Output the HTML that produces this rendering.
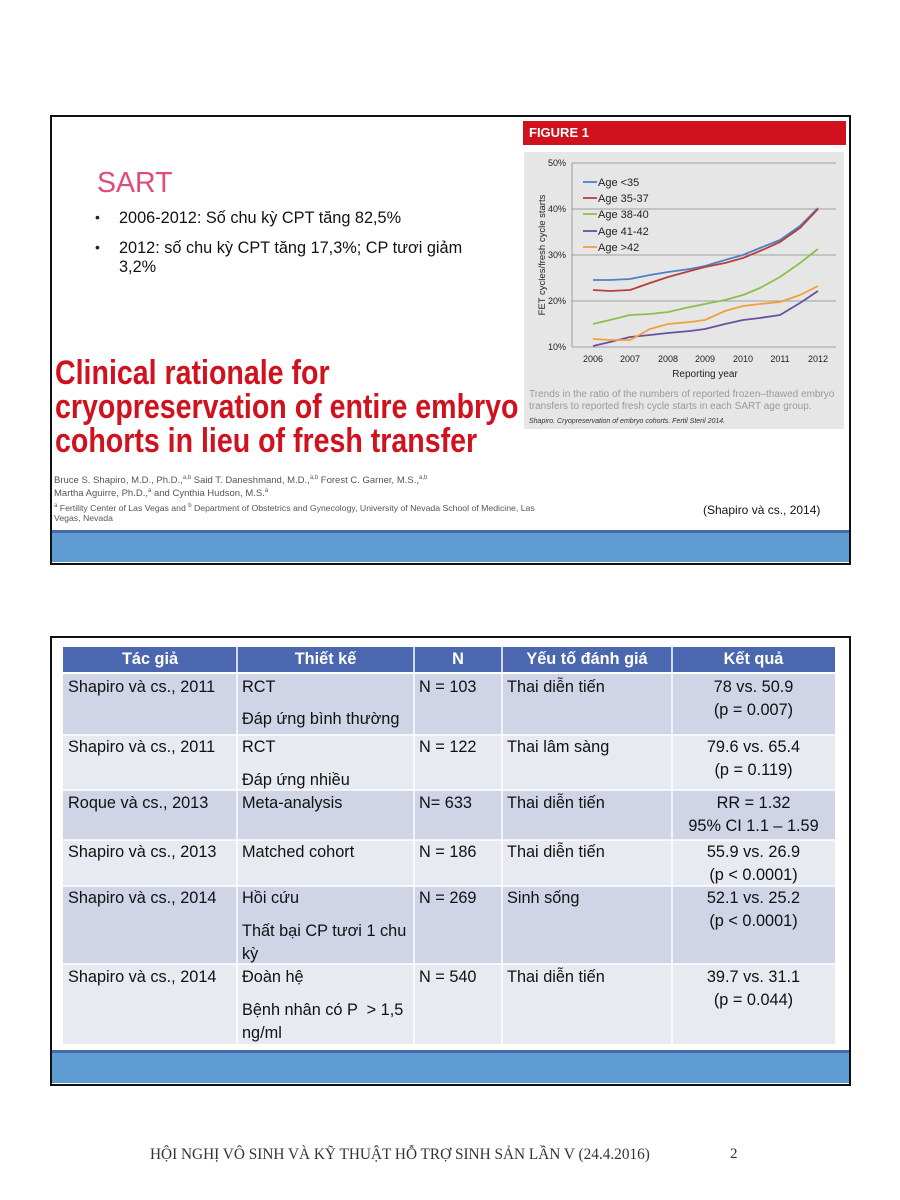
<!DOCTYPE html>
<html><head><meta charset="utf-8"><style>
body{margin:0;width:900px;height:1200px;background:#fff;position:relative;font-family:"Liberation Sans",sans-serif;overflow:hidden}
.a{position:absolute;white-space:nowrap}
.t{position:absolute;font-size:16.3px;color:#111;white-space:nowrap;line-height:18px}
.c{text-align:center}
</style></head><body>
<!-- slide 1 -->
<div class="a" style="left:50px;top:115px;width:797px;height:446px;border:2px solid #111;background:#fff"></div>
<div class="a" style="left:52px;top:530px;width:797px;height:3px;background:#4a66ad"></div>
<div class="a" style="left:52px;top:533px;width:797px;height:29px;background:#5e9cd1"></div>
<div class="a" style="left:97px;top:167px;font-size:28.5px;color:#e34a78">SART</div>
<div class="a" style="left:95px;top:209px;font-size:14px;color:#222">•</div>
<div class="a" style="left:119px;top:209px;font-size:16.3px;color:#111">2006-2012: Số chu kỳ CPT tăng 82,5%</div>
<div class="a" style="left:95px;top:239px;font-size:14px;color:#222">•</div>
<div class="a" style="left:119px;top:239px;font-size:16.3px;color:#111;line-height:19px">2012: số chu kỳ CPT tăng 17,3%; CP tươi giảm<br>3,2%</div>
<div class="a" style="left:55px;top:356px;font-weight:bold;font-size:34px;line-height:34px;color:#d0121f;transform:scaleX(0.84);transform-origin:0 0">Clinical rationale for<br>cryopreservation of entire embryo<br>cohorts in lieu of fresh transfer</div>
<div class="a" style="left:54px;top:473px;font-size:9.5px;line-height:11px;color:#555">Bruce S. Shapiro, M.D., Ph.D.,<sup style="font-size:6px">a,b</sup> Said T. Daneshmand, M.D.,<sup style="font-size:6px">a,b</sup> Forest C. Garner, M.S.,<sup style="font-size:6px">a,b</sup><br>Martha Aguirre, Ph.D.,<sup style="font-size:6px">a</sup> and Cynthia Hudson, M.S.<sup style="font-size:6px">a</sup></div>
<div class="a" style="left:54px;top:501px;font-size:8.7px;line-height:10px;color:#555"><sup style="font-size:6px">a</sup> Fertility Center of Las Vegas and <sup style="font-size:6px">b</sup> Department of Obstetrics and Gynecology, University of Nevada School of Medicine, Las<br>Vegas, Nevada</div>
<div class="a" style="left:703px;top:503px;font-size:12px;color:#111">(Shapiro và cs., 2014)</div>
<!-- figure -->
<div class="a" style="left:523px;top:121px;width:323px;height:24px;background:#d0121f;color:#fff;font-weight:bold;font-size:13px;line-height:24px;padding-left:6px;box-sizing:border-box">FIGURE 1</div>
<div class="a" style="left:524px;top:152px;width:320px;height:277px;background:#e6e6e6"></div>
<svg class="a" style="left:0;top:0" width="900" height="600">
<g stroke="#888" stroke-width="0.8">
<line x1="572" y1="163" x2="836" y2="163"/><line x1="572" y1="209" x2="836" y2="209"/><line x1="572" y1="255" x2="836" y2="255"/><line x1="572" y1="301" x2="836" y2="301"/><line x1="572" y1="347" x2="836" y2="347"/><line x1="572" y1="163" x2="572" y2="347"/>
</g>
<g font-size="9" fill="#222" text-anchor="end"><text x="566" y="166">50%</text><text x="566" y="212">40%</text><text x="566" y="258">30%</text><text x="566" y="304">20%</text><text x="566" y="350">10%</text></g>
<g font-size="9" fill="#222" text-anchor="middle"><text x="593" y="362">2006</text><text x="630" y="362">2007</text><text x="668" y="362">2008</text><text x="705" y="362">2009</text><text x="743" y="362">2010</text><text x="780" y="362">2011</text><text x="818" y="362">2012</text>
<text x="705" y="377" font-size="10">Reporting year</text></g>
<text transform="translate(545,255) rotate(-90)" font-size="9.5" fill="#222" text-anchor="middle">FET cycles/fresh cycle starts</text>
<g fill="none" stroke-width="1.8" stroke-linejoin="round">
<polyline stroke="#4f7fc4" points="593,280 610,280 630,279 650,275 668,272 690,269 705,266 725,260 743,255 760,248 780,240 800,226 818,208"/>
<polyline stroke="#b5413d" points="593,290 610,291 630,290 650,283 668,277 690,271 705,267 725,263 743,258 760,251 780,242 800,228 818,209"/>
<polyline stroke="#8dc04a" points="593,324 610,320 630,315 650,314 668,312 690,307 705,304 725,300 743,295 760,288 780,277 800,263 818,249"/>
<polyline stroke="#6a4fa3" points="593,346 610,342 630,337 650,335 668,333 690,331 705,329 725,324 743,320 760,318 780,315 800,303 818,291"/>
<polyline stroke="#f2a03d" points="593,339 610,340 630,340 650,329 668,324 690,322 705,320 725,311 743,306 760,304 780,302 800,295 818,286"/>
</g>
<g stroke-width="1.8"><line x1="583" y1="182" x2="597" y2="182" stroke="#4f7fc4"/><line x1="583" y1="198" x2="597" y2="198" stroke="#b5413d"/><line x1="583" y1="214" x2="597" y2="214" stroke="#8dc04a"/><line x1="583" y1="231" x2="597" y2="231" stroke="#6a4fa3"/><line x1="583" y1="247" x2="597" y2="247" stroke="#f2a03d"/></g>
<g font-size="11" fill="#222"><text x="598" y="186">Age &lt;35</text><text x="598" y="202">Age 35-37</text><text x="598" y="218">Age 38-40</text><text x="598" y="235">Age 41-42</text><text x="598" y="251">Age &gt;42</text></g>
<text x="529" y="397" font-size="10" fill="#999">Trends in the ratio of the numbers of reported frozen–thawed embryo</text>
<text x="529" y="409" font-size="10" fill="#999">transfers to reported fresh cycle starts in each SART age group.</text>
<text x="529" y="423" font-size="7" fill="#333" font-style="italic">Shapiro. Cryopreservation of embryo cohorts. Fertil Steril 2014.</text>
</svg>
<!-- slide 2 -->
<div class="a" style="left:50px;top:636px;width:797px;height:446px;border:2px solid #111;background:#fff"></div>
<div class="a" style="left:52px;top:1050px;width:797px;height:3px;background:#4a66ad"></div>
<div class="a" style="left:52px;top:1053px;width:797px;height:30px;background:#5e9cd1"></div>
<div class="a" style="left:63px;top:647px;width:772px;height:26px;background:#4a67b0"></div>
<div class="a" style="left:63px;top:673px;width:772px;height:62px;background:#cfd4e6"></div>
<div class="a" style="left:63px;top:735px;width:772px;height:55px;background:#e8eaf1"></div>
<div class="a" style="left:63px;top:790px;width:772px;height:50px;background:#cfd4e6"></div>
<div class="a" style="left:63px;top:840px;width:772px;height:46px;background:#e8eaf1"></div>
<div class="a" style="left:63px;top:886px;width:772px;height:78px;background:#cfd4e6"></div>
<div class="a" style="left:63px;top:964px;width:772px;height:80px;background:#e8eaf1"></div>
<svg class="a" style="left:0;top:0" width="900" height="1100"><g stroke="#fff" stroke-width="1.5">
<line x1="237" y1="647" x2="237" y2="1044"/><line x1="414" y1="647" x2="414" y2="1044"/><line x1="502" y1="647" x2="502" y2="1044"/><line x1="672" y1="647" x2="672" y2="1044"/>
<line x1="63" y1="673" x2="835" y2="673" stroke-width="2"/><line x1="63" y1="735" x2="835" y2="735"/><line x1="63" y1="790" x2="835" y2="790"/><line x1="63" y1="840" x2="835" y2="840"/><line x1="63" y1="886" x2="835" y2="886"/><line x1="63" y1="964" x2="835" y2="964"/></g></svg>
<div class="t c" style="left:63px;width:174px;top:650px;color:#fff;font-weight:bold">Tác giả</div>
<div class="t c" style="left:237px;width:177px;top:650px;color:#fff;font-weight:bold">Thiết kế</div>
<div class="t c" style="left:414px;width:88px;top:650px;color:#fff;font-weight:bold">N</div>
<div class="t c" style="left:502px;width:170px;top:650px;color:#fff;font-weight:bold">Yếu tố đánh giá</div>
<div class="t c" style="left:672px;width:163px;top:650px;color:#fff;font-weight:bold">Kết quả</div>

<div class="t" style="left:68px;top:678px">Shapiro và cs., 2011</div>
<div class="t" style="left:242px;top:678px">RCT</div>
<div class="t" style="left:242px;top:710px">Đáp ứng bình thường</div>
<div class="t" style="left:419px;top:678px">N = 103</div>
<div class="t" style="left:507px;top:678px">Thai diễn tiến</div>
<div class="t c" style="left:672px;width:163px;top:678px">78 vs. 50.9</div>
<div class="t c" style="left:672px;width:163px;top:701px">(p = 0.007)</div>

<div class="t" style="left:68px;top:738px">Shapiro và cs., 2011</div>
<div class="t" style="left:242px;top:738px">RCT</div>
<div class="t" style="left:242px;top:771px">Đáp ứng nhiều</div>
<div class="t" style="left:419px;top:738px">N = 122</div>
<div class="t" style="left:507px;top:738px">Thai lâm sàng</div>
<div class="t c" style="left:672px;width:163px;top:738px">79.6 vs. 65.4</div>
<div class="t c" style="left:672px;width:163px;top:761px">(p = 0.119)</div>

<div class="t" style="left:68px;top:794px">Roque và cs., 2013</div>
<div class="t" style="left:242px;top:794px">Meta-analysis</div>
<div class="t" style="left:419px;top:794px">N= 633</div>
<div class="t" style="left:507px;top:794px">Thai diễn tiến</div>
<div class="t c" style="left:672px;width:163px;top:794px">RR = 1.32</div>
<div class="t c" style="left:672px;width:163px;top:817px">95% CI 1.1 – 1.59</div>

<div class="t" style="left:68px;top:843px">Shapiro và cs., 2013</div>
<div class="t" style="left:242px;top:843px">Matched cohort</div>
<div class="t" style="left:419px;top:843px">N = 186</div>
<div class="t" style="left:507px;top:843px">Thai diễn tiến</div>
<div class="t c" style="left:672px;width:163px;top:843px">55.9 vs. 26.9</div>
<div class="t c" style="left:672px;width:163px;top:866px">(p &lt; 0.0001)</div>

<div class="t" style="left:68px;top:889px">Shapiro và cs., 2014</div>
<div class="t" style="left:242px;top:889px">Hồi cứu</div>
<div class="t" style="left:242px;top:922px">Thất bại CP tươi 1 chu</div>
<div class="t" style="left:242px;top:945px">kỳ</div>
<div class="t" style="left:419px;top:889px">N = 269</div>
<div class="t" style="left:507px;top:889px">Sinh sống</div>
<div class="t c" style="left:672px;width:163px;top:889px">52.1 vs. 25.2</div>
<div class="t c" style="left:672px;width:163px;top:912px">(p &lt; 0.0001)</div>

<div class="t" style="left:68px;top:968px">Shapiro và cs., 2014</div>
<div class="t" style="left:242px;top:968px">Đoàn hệ</div>
<div class="t" style="left:242px;top:1001px">Bệnh nhân có P &nbsp;&gt; 1,5</div>
<div class="t" style="left:242px;top:1024px">ng/ml</div>
<div class="t" style="left:419px;top:968px">N = 540</div>
<div class="t" style="left:507px;top:968px">Thai diễn tiến</div>
<div class="t c" style="left:672px;width:163px;top:968px">39.7 vs. 31.1</div>
<div class="t c" style="left:672px;width:163px;top:991px">(p = 0.044)</div>

<div class="a" style="left:150px;top:1146px;font-family:'Liberation Serif',serif;font-size:15.3px;color:#333">HỘI NGHỊ VÔ SINH VÀ KỸ THUẬT HỖ TRỢ SINH SẢN LẦN V (24.4.2016)</div>
<div class="a" style="left:730px;top:1146px;font-family:'Liberation Serif',serif;font-size:15px;color:#333">2</div>
</body></html>
